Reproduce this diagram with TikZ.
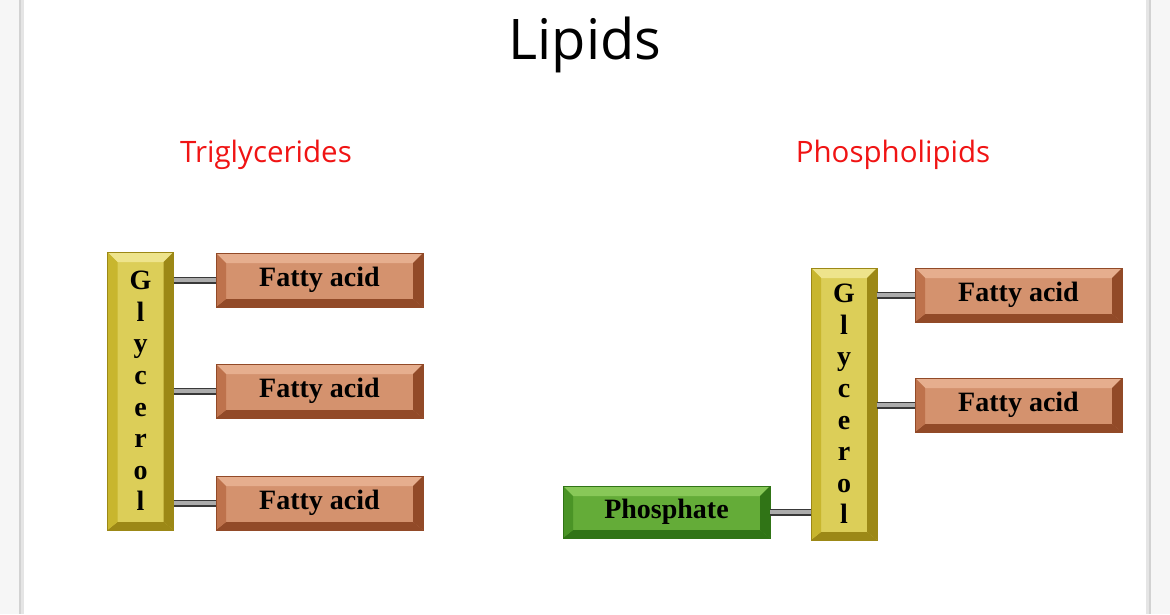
\documentclass[tikz,border=0pt]{standalone}
\usepackage{fontspec}
\setmainfont{Liberation Serif}
\newfontfamily\slidesans{Open Sans}
\definecolor{fabase}{RGB}{212,146,110}
\definecolor{falight}{RGB}{230,174,142}
\definecolor{fadark}{RGB}{146,74,40}
\definecolor{famid}{RGB}{190,114,76}
\definecolor{glbase}{RGB}{220,206,88}
\definecolor{gllight}{RGB}{238,228,140}
\definecolor{gldark}{RGB}{156,136,22}
\definecolor{glmid}{RGB}{200,182,46}
\definecolor{phbase}{RGB}{100,172,56}
\definecolor{phlight}{RGB}{136,200,88}
\definecolor{phdark}{RGB}{48,116,22}
\definecolor{phmid}{RGB}{74,148,38}
\definecolor{slidegray}{RGB}{246,246,246}
\definecolor{titlered}{RGB}{240,20,20}
\tikzset{
  bevel/.style n args={4}{fill=#1, draw=#3, line width=0.8pt, inner sep=0pt,
    path picture={
      \fill[#2] (path picture bounding box.north west) -- (path picture bounding box.north east)
        -- ([shift={(-10pt,-10pt)}]path picture bounding box.north east)
        -- ([shift={(10pt,-10pt)}]path picture bounding box.north west) -- cycle;
      \fill[#3] (path picture bounding box.south west) -- (path picture bounding box.south east)
        -- ([shift={(-10pt,8pt)}]path picture bounding box.south east)
        -- ([shift={(10pt,8pt)}]path picture bounding box.south west) -- cycle;
      \fill[#3] (path picture bounding box.north east) -- (path picture bounding box.south east)
        -- ([shift={(-10pt,8pt)}]path picture bounding box.south east)
        -- ([shift={(-10pt,-10pt)}]path picture bounding box.north east) -- cycle;
      \fill[#4] (path picture bounding box.north west) -- (path picture bounding box.south west)
        -- ([shift={(10pt,8pt)}]path picture bounding box.south west)
        -- ([shift={(10pt,-10pt)}]path picture bounding box.north west) -- cycle;
    }},
  boxfont/.style={font=\bfseries\fontsize{28}{32}\selectfont},
  fatty/.style={bevel={fabase}{falight}{fadark}{famid}, minimum width=207pt, minimum height=54pt, boxfont},
  glyc/.style={bevel={glbase}{gllight}{gldark}{glmid}, minimum width=66pt,
    align=center, font=\bfseries\fontsize{28}{31.6}\selectfont},
  phos/.style={bevel={phbase}{phlight}{phdark}{phmid}, minimum width=207pt, minimum height=52pt, boxfont},
  conn/.style={draw=gray!45!black, line width=7pt},
  conninner/.style={draw=gray!65, line width=3.5pt},
  label/.style={text=titlered, font=\slidesans\fontsize{29.5}{32}\selectfont},
}
\begin{document}
\begin{tikzpicture}[x=1pt,y=-1pt]
\useasboundingbox (0,0) rectangle (1170,614);
\fill[slidegray] (0,0) rectangle (1170,614);
\fill[gray!35] (19,0) rectangle (1151,614);
\fill[gray!20] (21,0) rectangle (1149,614);
\fill[white] (24,0) rectangle (1146,614);

\node[font=\slidesans\fontsize{56}{60}\selectfont] (title) at (585,45) {Lipids};
\node[label] (tri) at (266,155) {Triglycerides};
\node[label] (pho) at (893,155) {Phospholipids};

% Triglyceride
\node[glyc, minimum height=278pt] (g1) at (140.5,391) {G\\l\\y\\c\\e\\r\\o\\l};
\node[fatty] (fa1) at (319.5,280) {Fatty acid};
\node[fatty] (fa2) at (319.5,391) {Fatty acid};
\node[fatty] (fa3) at (319.5,503) {Fatty acid};
\foreach \f in {fa1,fa2,fa3}{
  \draw[conn] (g1.east |- \f.west) -- (\f.west);
  \draw[conninner] (g1.east |- \f.west) -- (\f.west);
}

% Phospholipid
\node[glyc, minimum height=272pt] (g2) at (844,404) {G\\l\\y\\c\\e\\r\\o\\l};
\node[fatty] (fb1) at (1018.5,295) {Fatty acid};
\node[fatty] (fb2) at (1018.5,405) {Fatty acid};
\node[phos] (ph) at (666.5,512) {Phosphate};
\foreach \f in {fb1,fb2}{
  \draw[conn] (g2.east |- \f.west) -- (\f.west);
  \draw[conninner] (g2.east |- \f.west) -- (\f.west);
}
\draw[conn] (ph.east) -- (ph.east -| g2.west);
\draw[conninner] (ph.east) -- (ph.east -| g2.west);
\end{tikzpicture}
\end{document}
